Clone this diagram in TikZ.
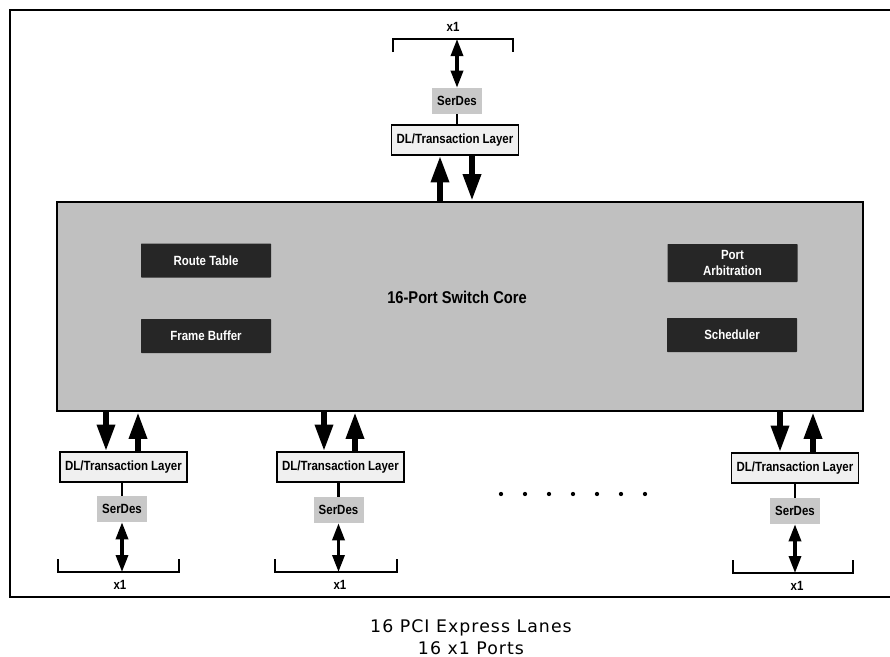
\documentclass[tikz,border=0pt]{standalone}
\usepackage{fontspec}
\setmainfont{Liberation Sans}[FakeStretch=0.86]
\newfontfamily\capfont{DejaVu Sans}[LetterSpace=6]
\usetikzlibrary{arrows.meta}
\definecolor{coregray}{HTML}{C0C0C0}
\definecolor{serdesgray}{HTML}{C8C8C8}
\definecolor{dlfill}{HTML}{F0F0F0}
\definecolor{innerfill}{HTML}{262626}
\begin{document}
\begin{tikzpicture}[x=0.75pt,y=-0.75pt,
  every node/.style={font=\fontsize{10pt}{11.5pt}\selectfont\bfseries},
  corebox/.style={draw,line width=1.7pt,fill=coregray,minimum width=604.5pt,minimum height=156.75pt,inner sep=0pt},
  innerbox/.style={fill=innerfill,text=white,minimum width=97.5pt,minimum height=25.5pt,inner sep=0pt,align=center,rounded corners=0.5pt},
  dlbox/.style={draw,line width=1pt,fill=dlfill,minimum width=95.25pt,minimum height=22.5pt,inner sep=0pt},
  serdesbox/.style={fill=serdesgray,minimum width=37.5pt,minimum height=19.5pt,inner sep=0pt},
  bigarrow/.style={line width=4.5pt,-{Triangle[length=20pt,width=12.75pt]}},
  linkarrow/.style={line width=2.5pt,{Triangle[length=12.75pt,width=9pt]}-{Triangle[length=12.75pt,width=9pt]}},
  joinline/.style={line width=2pt},
  bracketline/.style={line width=1.5pt},
  framerule/.style={line width=1.5pt}
]
\useasboundingbox (0,0) rectangle (890,657);
% outer frame
\draw[framerule] (892,10) -- (10,10) -- (10,597) -- (892,597);

% core
\node[corebox] (core) at (460,306.5) {};
\node[font=\fontsize{12.8pt}{15pt}\selectfont\bfseries] (coretitle) at (457,297) {16-Port Switch Core};
\node[innerbox] (route) at (206,260.5) {Route Table};
\node[innerbox] (frame) at (206,336) {Frame Buffer};
\node[innerbox,minimum height=28.5pt] (arb) at (732.5,263) {Port\\[0pt]Arbitration};
\node[innerbox] (sched) at (732,335) {Scheduler};

% top port
\node[dlbox] (dlT) at (455,140) {DL/Transaction Layer};
\node[serdesbox] (sdT) at (457,101) {SerDes};
\coordinate (brT) at (457,39);
\draw[bracketline] (393,52) -- (393,39) -- (513,39) -- (513,52);
\node (xT) at (453,27) {x1};
\draw[joinline] (sdT.south) -- (dlT.north -| sdT.south);
\draw[linkarrow] (brT) -- (sdT.north);
\draw[bigarrow] (core.north -| 440,0) -- (dlT.south -| 440,0);
\draw[bigarrow] (dlT.south -| 472,0) -- (core.north -| 472,0);

% left port
\node[dlbox] (dlA) at (123.5,467) {DL/Transaction Layer};
\node[serdesbox] (sdA) at (122,509) {SerDes};
\coordinate (brA) at (122,572);
\draw[bracketline] (58,559) -- (58,572) -- (179,572) -- (179,559);
\node (xA) at (120,585) {x1};
\draw[joinline] (sdA.north) -- (dlA.south -| sdA.north);
\draw[linkarrow] (sdA.south) -- (brA);
\draw[bigarrow] (core.south -| 106,0) -- (dlA.north -| 106,0);
\draw[bigarrow] (dlA.north -| 138,0) -- (core.south -| 138,0);

% middle port
\node[dlbox] (dlB) at (340.5,467) {DL/Transaction Layer};
\node[serdesbox] (sdB) at (338.5,510) {SerDes};
\coordinate (brB) at (338.5,572);
\draw[bracketline] (275,559) -- (275,572) -- (397,572) -- (397,559);
\node (xB) at (340,585) {x1};
\draw[joinline] (sdB.north) -- (dlB.south -| sdB.north);
\draw[linkarrow] (sdB.south) -- (brB);
\draw[bigarrow] (core.south -| 324,0) -- (dlB.north -| 324,0);
\draw[bigarrow] (dlB.north -| 355,0) -- (core.south -| 355,0);

% right port
\node[dlbox] (dlC) at (795,468) {DL/Transaction Layer};
\node[serdesbox] (sdC) at (795,511) {SerDes};
\coordinate (brC) at (795,573);
\draw[bracketline] (733,560) -- (733,573) -- (853,573) -- (853,560);
\node (xC) at (797,586) {x1};
\draw[joinline] (sdC.north) -- (dlC.south -| sdC.north);
\draw[linkarrow] (sdC.south) -- (brC);
\draw[bigarrow] (core.south -| 780,0) -- (dlC.north -| 780,0);
\draw[bigarrow] (dlC.north -| 813,0) -- (core.south -| 813,0);

% dots
\foreach \k in {0,...,6} {\fill (501+24*\k,494) circle (1.6pt);}

% caption
\node[font=\capfont\fontsize{13pt}{15pt}\selectfont] (cap1) at (471,628) {16 PCI Express Lanes};
\node[font=\capfont\fontsize{13pt}{15pt}\selectfont] (cap2) at (471,648) {16 x1 Ports};
\end{tikzpicture}
\end{document}
